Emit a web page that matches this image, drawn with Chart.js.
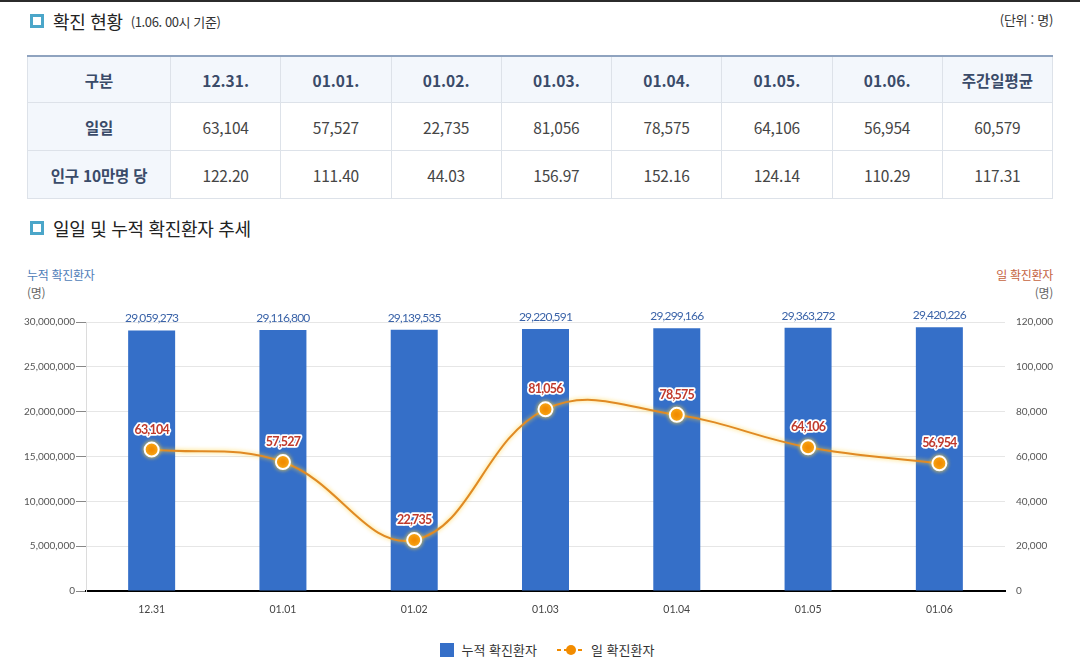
<!DOCTYPE html>
<html lang="ko">
<head>
<meta charset="utf-8">
<script src="https://cdn.jsdelivr.net/npm/chart.js@4.4.1/dist/chart.umd.min.js"></script>
<style>
  html,body{margin:0;padding:0;background:#fff;}
  body{width:1080px;height:669px;position:relative;overflow:hidden;font-family:"Noto Sans CJK KR","Noto Sans",sans-serif;color:#222;}
  .topline{position:absolute;left:0;top:0;width:1080px;height:2px;background:#2b2b2b;}
  .sec{position:absolute;left:30px;display:flex;align-items:center;white-space:nowrap;}
  .icon{width:8px;height:8px;border:3px solid #4ba6c9;background:#fff;margin-right:9px;box-sizing:content-box;}
  .sec .t{font-size:18px;color:#222;letter-spacing:-0.3px;}
  .sec .s{font-size:13px;color:#333;margin-left:8px;letter-spacing:-0.4px;}
  .unit{position:absolute;right:27px;top:10px;font-size:13px;color:#333;letter-spacing:-0.3px;}
  table{position:absolute;left:27px;top:55px;width:1026px;border-collapse:collapse;table-layout:fixed;border-top:2px solid #8fa3bf;}
  td,th{border:1px solid #dde2e9;text-align:center;font-size:15.5px;padding:0;}
  th{background:#f3f7fc;color:#3a4b69;font-weight:bold;height:45px;}
  td{color:#454545;height:47px;letter-spacing:-0.2px;}
  td.h{background:#f3f7fc;color:#3a4b69;font-weight:bold;}
  .ax{position:absolute;font-size:12px;letter-spacing:-0.3px;}
  #chartWrap{position:absolute;left:0;top:300px;width:1080px;height:330px;}
  .legend{position:absolute;top:640px;left:7px;width:1080px;display:flex;justify-content:center;align-items:center;font-size:13px;color:#333;}
  .lg{display:flex;align-items:center;margin:0 10px;}
  .sq{width:14px;height:14px;background:#356fc8;margin-right:8px;}
</style>
</head>
<body>
<div class="topline"></div>
<div class="sec" style="top:8px;"><div class="icon"></div><span class="t">확진 현황</span><span class="s">(1.06. 00시 기준)</span></div>
<div class="unit">(단위 : 명)</div>
<table id="tbl"></table>
<div class="sec" style="top:215px;"><div class="icon"></div><span class="t">일일 및 누적 확진환자 추세</span></div>
<div class="ax" style="left:27px;top:266px;color:#4f7db8;">누적 확진환자</div>
<div class="ax" style="left:27px;top:284px;color:#666;">(명)</div>
<div class="ax" style="right:27px;top:266px;color:#c5643f;">일 확진환자</div>
<div class="ax" style="right:27px;top:284px;color:#666;">(명)</div>
<div id="chartWrap"><canvas id="c" width="1080" height="330"></canvas></div>
<div class="legend">
  <div class="lg"><div class="sq"></div>누적 확진환자</div>
  <div class="lg"><canvas id="lgLine" width="28" height="14" style="margin-right:6px;"></canvas>일 확진환자</div>
</div>
<script>
const categories = ['12.31','01.01','01.02','01.03','01.04','01.05','01.06'];
const cumulative = [29059273, 29116800, 29139535, 29220591, 29299166, 29363272, 29420226];
const daily = [63104, 57527, 22735, 81056, 78575, 64106, 56954];
const per100k = ['122.20','111.40','44.03','156.97','152.16','124.14','110.29'];
const weeklyAvgDaily = 60579;
const weeklyAvgPer100k = '117.31';
const leftTicks = [0, 5000000, 10000000, 15000000, 20000000, 25000000, 30000000];
const rightTicks = [0, 20000, 40000, 60000, 80000, 100000, 120000];

const fmt = v => Number(v).toLocaleString('en-US');

// table
const tbl = document.getElementById('tbl');
let html = '<colgroup><col style="width:143px">' + categories.map(()=>'<col>').join('') + '<col></colgroup>';
html += '<tr><th>구분</th>' + categories.map(c=>'<th>'+c+'.</th>').join('') + '<th>주간일평균</th></tr>';
html += '<tr><td class="h">일일</td>' + daily.map(v=>'<td>'+fmt(v)+'</td>').join('') + '<td>'+fmt(weeklyAvgDaily)+'</td></tr>';
html += '<tr><td class="h">인구 10만명 당</td>' + per100k.map(v=>'<td>'+v+'</td>').join('') + '<td>'+weeklyAvgPer100k+'</td></tr>';
tbl.innerHTML = html;

// legend line icon
(function(){
  const c = document.getElementById('lgLine').getContext('2d');
  c.strokeStyle = '#f08a00'; c.lineWidth = 2;
  c.setLineDash([4,3]);
  c.beginPath(); c.moveTo(0,7); c.lineTo(28,7); c.stroke();
  c.setLineDash([]);
  c.fillStyle = '#f28c00';
  c.beginPath(); c.arc(14,7,5,0,Math.PI*2); c.fill();
})();

const labelPlugin = {
  id: 'valueLabels',
  beforeDatasetDraw(chart, args) {
    if (args.index === 1) {
      const ctx = chart.ctx;
      ctx.save();
      ctx.shadowColor = 'rgba(255,210,60,0.9)';
      ctx.shadowBlur = 4;
    }
  },
  afterDatasetDraw(chart, args) {
    if (args.index === 1) chart.ctx.restore();
  },
  afterDatasetsDraw(chart) {
    const ctx = chart.ctx;
    ctx.save();
    ctx.textAlign = 'center';
    ctx.textBaseline = 'middle';
    // bar labels
    const barMeta = chart.getDatasetMeta(0);
    ctx.font = '12px Lato, "Liberation Sans", sans-serif';
    if ('letterSpacing' in ctx) ctx.letterSpacing = '-0.8px';
    ctx.fillStyle = '#3a63a8';
    barMeta.data.forEach((el, i) => {
      ctx.fillText(fmt(cumulative[i]), el.x, el.y - 12);
    });
    // line labels
    const lineMeta = chart.getDatasetMeta(1);
    ctx.font = 'bold 12.5px Lato, "Liberation Sans", sans-serif';
    ctx.lineJoin = 'round';
    lineMeta.data.forEach((el, i) => {
      const t = fmt(daily[i]);
      ctx.strokeStyle = '#ffffff';
      ctx.lineWidth = 3.5;
      ctx.strokeText(t, el.x, el.y - 20);
      ctx.fillStyle = '#c0392b';
      ctx.fillText(t, el.x, el.y - 20);
    });
    ctx.restore();
  }
};

new Chart(document.getElementById('c'), {
  data: {
    labels: categories,
    datasets: [
      {
        type: 'bar',
        label: '누적 확진환자',
        data: cumulative,
        backgroundColor: '#356fc8',
        borderWidth: 0,
        categoryPercentage: 1,
        barPercentage: 0.358,
        yAxisID: 'y',
        order: 1
      },
      {
        type: 'line',
        label: '일 확진환자',
        data: daily,
        borderColor: '#e08a24',
        borderWidth: 2,
        tension: 0.4,
        pointRadius: 7,
        pointBackgroundColor: '#f28c00',
        pointBorderColor: '#ffffff',
        pointBorderWidth: 2,
        yAxisID: 'y1',
        order: 0
      }
    ]
  },
  options: {
    responsive: false,
    animation: false,
    layout: { padding: { top: 22, left: 0, right: 0, bottom: 0 } },
    plugins: { legend: { display: false }, tooltip: { enabled: false } },
    scales: {
      x: {
        grid: { display: false, drawTicks: false },
        border: { color: '#000', width: 2 },
        ticks: { padding: 12, color: '#444', font: { size: 10.5, family: 'Lato, sans-serif' } },
        afterFit(s) { s.height = 39; }
      },
      y: {
        position: 'left',
        min: 0, max: 30000000,
        afterBuildTicks(s) { s.ticks = leftTicks.map(v => ({ value: v })); },
        grid: { color: '#e6e6e6', tickColor: '#888', tickLength: 10, lineWidth: 1 },
        border: { color: '#dcdcdc' },
        ticks: { padding: 1, color: '#555', font: { size: 10, family: 'Lato, sans-serif' }, callback: v => fmt(v) },
        afterFit(s) { s.width = 86; }
      },
      y1: {
        position: 'right',
        min: 0, max: 120000,
        afterBuildTicks(s) { s.ticks = rightTicks.map(v => ({ value: v })); },
        grid: { drawOnChartArea: false, drawTicks: false },
        border: { display: false },
        ticks: { padding: 11, color: '#555', font: { size: 10, family: 'Lato, sans-serif' }, callback: v => fmt(v) },
        afterFit(s) { s.width = 75; }
      }
    }
  },
  plugins: [labelPlugin]
});
</script>
</body>
</html>
